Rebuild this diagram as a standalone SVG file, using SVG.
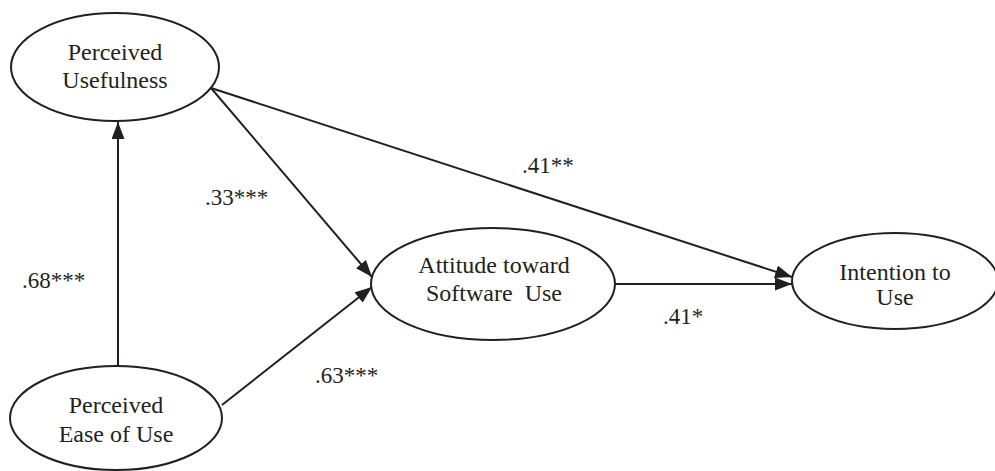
<svg xmlns="http://www.w3.org/2000/svg" width="995" height="471" viewBox="0 0 995 471">
<defs>
<marker id="ah" markerWidth="17" markerHeight="13" refX="17" refY="6.5" orient="auto" markerUnits="userSpaceOnUse">
<path d="M0,0 L17,6.5 L0,13 Z" fill="#231f20"/>
</marker>
<style>
.n ellipse{fill:#fff;stroke:#231f20;stroke-width:2}
.n text{text-anchor:middle;font-size:24px}
.c line{stroke:#231f20;stroke-width:2;marker-end:url(#ah)}
</style>
</defs>
<rect width="995" height="471" fill="#fff"/>
<g class="c" id="connectors">
<line x1="118" y1="366" x2="118" y2="122"/>
<line x1="211" y1="88" x2="372" y2="277"/>
<line x1="211" y1="88" x2="792" y2="277"/>
<line x1="615" y1="284" x2="792" y2="284"/>
<line x1="222" y1="405" x2="372" y2="287"/>
</g>
<g font-family="Liberation Serif, Times New Roman, serif" font-size="23" fill="#231f20">
<g class="n" id="pu"><ellipse cx="115" cy="67" rx="104" ry="54"/><text x="115" y="60">Perceived</text><text x="115" y="88">Usefulness</text></g>
<g class="n" id="peou"><ellipse cx="116" cy="418" rx="106" ry="52"/><text x="116" y="413">Perceived</text><text x="116" y="442">Ease of Use</text></g>
<g class="n" id="att"><ellipse cx="493" cy="284" rx="122" ry="56"/><text x="494" y="273">Attitude toward</text><text x="494" y="301" xml:space="preserve">Software  Use</text></g>
<g class="n" id="int"><ellipse cx="895" cy="281" rx="103" ry="48"/><text x="895" y="280">Intention to</text><text x="895" y="305">Use</text></g>
<g id="labels">
<text x="522" y="173">.41**</text>
<text x="205" y="205">.33***</text>
<text x="22" y="288">.68***</text>
<text x="315" y="383">.63***</text>
<text x="663" y="324">.41*</text>
</g>
</g>
</svg>
